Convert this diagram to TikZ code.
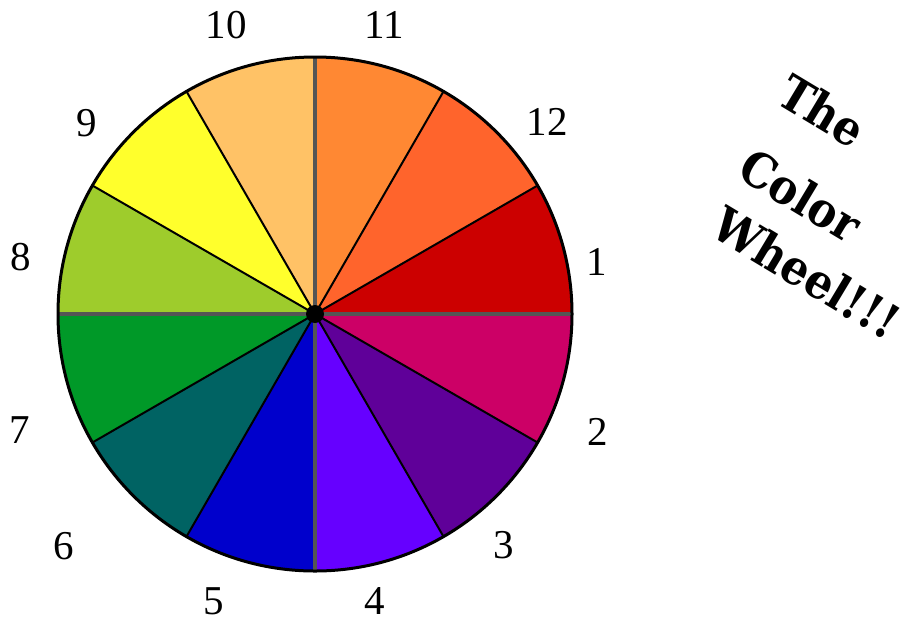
\documentclass[tikz,border=0pt]{standalone}
\usepackage{fontspec}
\setmainfont{Liberation Serif}
\newfontfamily\titlefont[FakeStretch=0.9]{DejaVu Serif}
\definecolor{cA}{HTML}{CC0000}
\definecolor{cB}{HTML}{CC0066}
\definecolor{cC}{HTML}{5F0099}
\definecolor{cD}{HTML}{6600FF}
\definecolor{cE}{HTML}{0000CC}
\definecolor{cF}{HTML}{006363}
\definecolor{cG}{HTML}{009928}
\definecolor{cH}{HTML}{9ECC2C}
\definecolor{cI}{HTML}{FFFF2C}
\definecolor{cJ}{HTML}{FFC266}
\definecolor{cK}{HTML}{FF8833}
\definecolor{cL}{HTML}{FF642C}
\definecolor{axisgray}{HTML}{555555}
\tikzset{
  numlabel/.style={font=\fontsize{41}{41}\selectfont, inner sep=0pt},
  titleblock/.style={font=\titlefont\bfseries\fontsize{48}{63}\selectfont, inner sep=0pt, rotate=-31, align=center},
  thinspoke/.style={draw=black, line width=2pt},
  axisspoke/.style={draw=axisgray, line width=3.5pt}
}
\begin{document}
\begin{tikzpicture}[x=1pt,y=-1pt]
\useasboundingbox (0,0) rectangle (910,622);
\coordinate (O) at (315,314);
\begin{scope}[shift={(315,314)}, y=1pt]
  \foreach \a/\c in {0/cA,30/cL,60/cK,90/cJ,120/cI,150/cH,180/cG,210/cF,240/cE,270/cD,300/cC,330/cB}{
    \fill[\c] (0,0) -- (\a:257) arc[start angle=\a, delta angle=30, radius=257] -- cycle;
  }
  \foreach \a in {30,60,120,150,210,240,300,330}{
    \draw[thinspoke] (0,0) -- (\a:257);
  }
  \foreach \a in {0,90,180,270}{
    \draw[axisspoke] (0,0) -- (\a:257);
  }
  \draw[line width=3pt] (0,0) circle[radius=257];
  \fill[black] (0,0) circle[radius=9];
\end{scope}
\node[numlabel] (n1) at (597,262) {1};
\node[numlabel] (n2) at (598,432) {2};
\node[numlabel] (n3) at (504,545) {3};
\node[numlabel] (n4) at (375,601) {4};
\node[numlabel] (n5) at (214,601) {5};
\node[numlabel] (n6) at (64,546) {6};
\node[numlabel] (n7) at (20,430) {7};
\node[numlabel] (n8) at (21,257) {8};
\node[numlabel] (n9) at (87,123) {9};
\node[numlabel] (n10) at (226,25) {10};
\node[numlabel] (n11) at (384,25) {11};
\node[numlabel] (n12) at (547,122) {12};
\node[titleblock] (title) at (812,190) {\hspace*{-64pt}The\\[21pt]\hspace*{-14pt}Color\\\hspace*{76pt}Wheel!!!};
\end{tikzpicture}
\end{document}
